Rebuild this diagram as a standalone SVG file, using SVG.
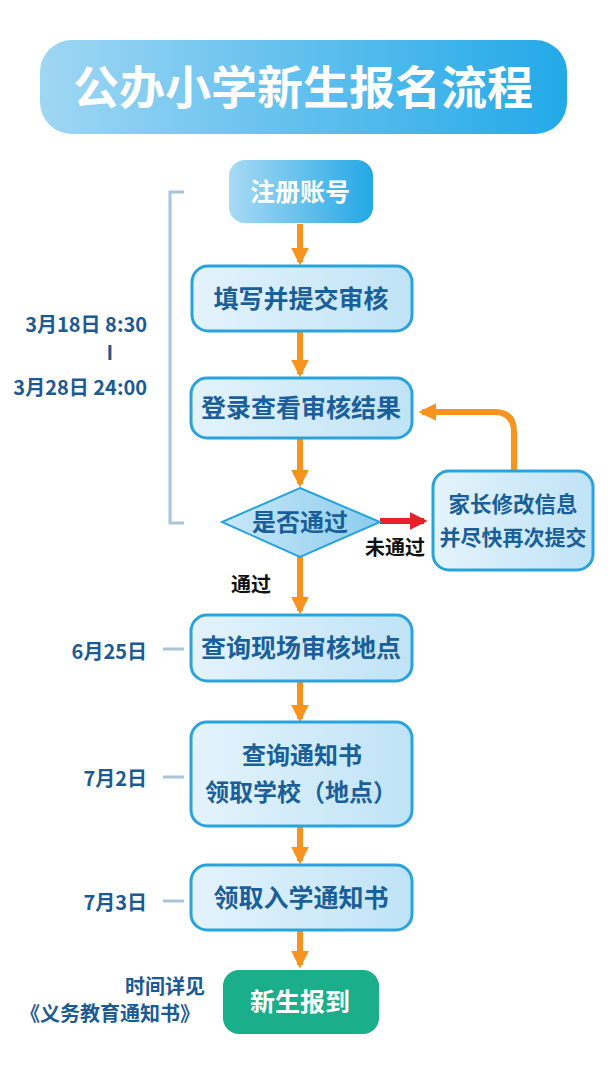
<svg xmlns="http://www.w3.org/2000/svg" width="610" height="1067" viewBox="0 0 610 1067">
<defs>
<linearGradient id="gTitle" x1="0" y1="0" x2="1" y2="0"><stop offset="0" stop-color="#9fd6f3"/><stop offset="1" stop-color="#22a9e8"/></linearGradient>
<linearGradient id="gStart" x1="0" y1="0" x2="1" y2="0"><stop offset="0" stop-color="#a8daf4"/><stop offset="1" stop-color="#23a8e6"/></linearGradient>
<linearGradient id="gNode" x1="0" y1="0" x2="1" y2="0"><stop offset="0" stop-color="#e4f3fc"/><stop offset="1" stop-color="#bfe3f6"/></linearGradient>
<linearGradient id="gDia" x1="0" y1="0" x2="1" y2="0"><stop offset="0" stop-color="#c9e8f8"/><stop offset="1" stop-color="#8ccdee"/></linearGradient>
<marker id="ao" viewBox="0 0 10 10" refX="8" refY="5" markerWidth="3" markerHeight="3" orient="auto" markerUnits="strokeWidth"><path d="M0,0 L10,5 L0,10 z" fill="#f7931e"/></marker>
<marker id="ar" viewBox="0 0 10 10" refX="8" refY="5" markerWidth="3" markerHeight="3" orient="auto" markerUnits="strokeWidth"><path d="M0,0 L10,5 L0,10 z" fill="#e8202a"/></marker>
</defs>
<style>
.node{fill:url(#gNode);stroke:#2aa3dc;stroke-width:3}
.nt{font-family:"Noto Sans CJK SC","Noto Sans",sans-serif;font-weight:bold;fill:#1a5f99;text-anchor:middle}
.wt{font-family:"Noto Sans CJK SC","Noto Sans",sans-serif;font-weight:bold;fill:#ffffff;text-anchor:middle}
.lab{font-family:"Noto Sans CJK SC","Noto Sans",sans-serif;font-weight:bold;fill:#1b5a92;font-size:20px;text-anchor:end}
.bk{font-family:"Noto Sans CJK SC","Noto Sans",sans-serif;font-weight:bold;fill:#111111;font-size:20px;text-anchor:middle}
.arr{stroke:#f7931e;stroke-width:6;fill:none;marker-end:url(#ao)}
.tick{stroke:#a9c4dc;stroke-width:3;fill:none}
</style>
<rect width="610" height="1067" fill="#ffffff"/>
<g id="title">
<rect x="40" y="40" width="527" height="94" rx="32" fill="url(#gTitle)"/>
<text x="303" y="104" class="wt" font-size="46">公办小学新生报名流程</text>
</g>
<g id="timeline">
<path class="tick" d="M184,192 H170 V523 H184"/>
<text x="147" y="332" class="lab">3月18日 8:30</text>
<text x="113" y="360" class="lab" text-anchor="middle">I</text>
<text x="147" y="395" class="lab">3月28日 24:00</text>
<path class="tick" d="M163,649 H184"/>
<text x="147" y="659" class="lab">6月25日</text>
<path class="tick" d="M163,777 H184"/>
<text x="147" y="786" class="lab">7月2日</text>
<path class="tick" d="M163,901 H184"/>
<text x="147" y="910" class="lab">7月3日</text>
<text x="205" y="994" class="lab">时间详见</text>
<text x="200" y="1021" class="lab">《义务教育通知书》</text>
</g>
<g id="connectors">
<path class="arr" d="M300,224 V262"/>
<path class="arr" d="M300,332 V374"/>
<path class="arr" d="M300,439 V484"/>
<path class="arr" d="M300,557 V611"/>
<path class="arr" d="M300,682 V719"/>
<path class="arr" d="M300,826 V861"/>
<path class="arr" d="M300,931 V965"/>
<path class="arr" d="M514,470 V432 Q514,412 494,412 H422"/>
<path d="M380,521 H424" stroke="#e8202a" stroke-width="6" fill="none" marker-end="url(#ar)"/>
<text x="395" y="555" class="bk">未通过</text>
<text x="251" y="592" class="bk">通过</text>
</g>
<g id="n1"><rect x="229" y="160" width="144" height="63" rx="16" fill="url(#gStart)"/><text x="300" y="201" class="wt" font-size="25">注册账号</text></g>
<g id="n2"><rect x="192" y="266" width="220" height="65" rx="16" class="node"/><text x="301" y="308" class="nt" font-size="25">填写并提交审核</text></g>
<g id="n3"><rect x="191" y="378" width="221" height="60" rx="16" class="node"/><text x="301" y="417" class="nt" font-size="25">登录查看审核结果</text></g>
<g id="n4"><path d="M300,488 L380,522 L300,557 L222,522 Z" fill="url(#gDia)" stroke="#2aa3dc" stroke-width="2"/><text x="300" y="531" class="nt" font-size="24">是否通过</text></g>
<g id="n5"><rect x="433" y="471" width="160" height="99" rx="16" class="node"/><text x="513" y="512" class="nt" font-size="21.5">家长修改信息</text><text x="513" y="545" class="nt" font-size="21">并尽快再次提交</text></g>
<g id="n6"><rect x="191" y="615" width="221" height="66" rx="16" class="node"/><text x="301" y="657" class="nt" font-size="25">查询现场审核地点</text></g>
<g id="n7"><rect x="191" y="722" width="221" height="104" rx="16" class="node"/><text x="302" y="764" class="nt" font-size="24">查询通知书</text><text x="301" y="801" class="nt" font-size="24">领取学校（地点）</text></g>
<g id="n8"><rect x="191" y="865" width="221" height="65" rx="16" class="node"/><text x="301" y="907" class="nt" font-size="25">领取入学通知书</text></g>
<g id="n9"><rect x="223" y="970" width="156" height="64" rx="16" fill="#1bae8a"/><text x="300" y="1011" class="wt" font-size="25">新生报到</text></g>
</svg>
